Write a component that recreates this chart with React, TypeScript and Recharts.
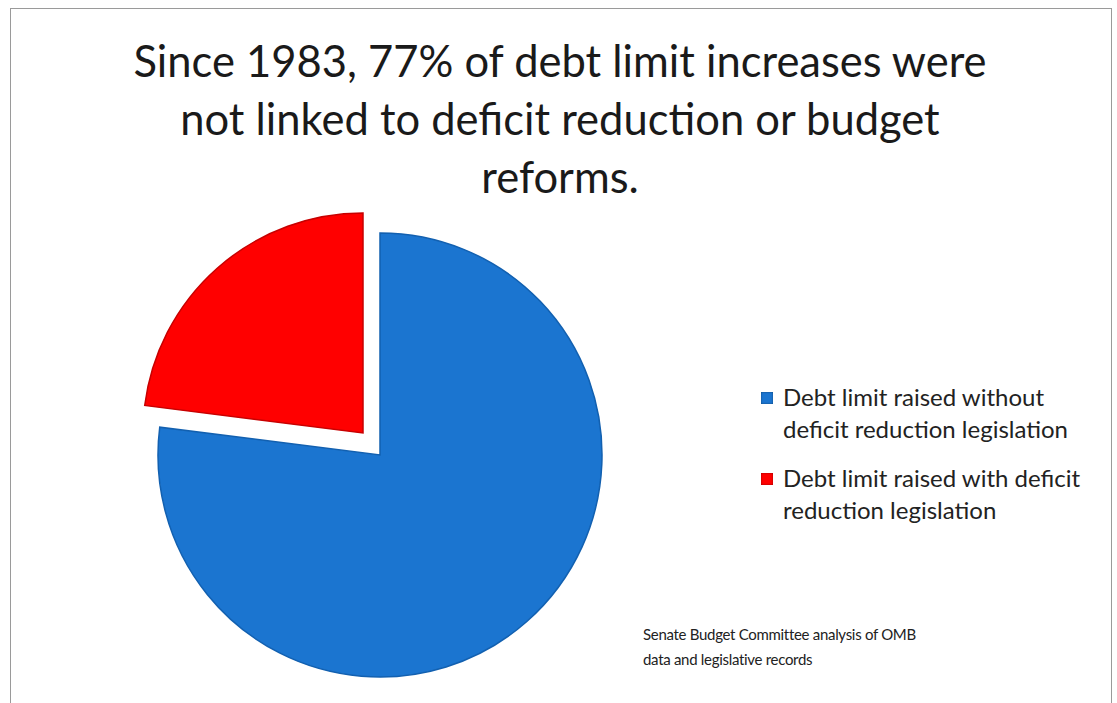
import { PieChart, Pie, Cell } from 'recharts';

const categories = [
  'Debt limit raised without deficit reduction legislation',
  'Debt limit raised with deficit reduction legislation',
];
const shares = [77, 23];
const colors = ['#1b75d0', '#ff0000'];
const edgeColors = ['#1260b0', '#c80000'];
const legendLines = [
  ['Debt limit raised without', 'deficit reduction legislation'],
  ['Debt limit raised with deficit', 'reduction legislation'],
];

const data = categories.map((name, i) => ({ name, value: shares[i] }));

const font = 'Lato, "Open Sans", sans-serif';

const App = () => {
  return (
    <div
      style={{
        position: 'absolute',
        left: 0,
        top: 0,
        width: 1117,
        height: 703,
        background: '#fff',
        overflow: 'hidden',
        fontFamily: font,
      }}
    >
      <div
        style={{
          position: 'absolute',
          left: 10,
          top: 8,
          width: 1100,
          height: 720,
          border: '1.5px solid #9a9a9a',
        }}
      />
      <div
        style={{
          position: 'absolute',
          left: 60,
          top: 31,
          width: 1000,
          textAlign: 'center',
          fontSize: 43.5,
          lineHeight: '58px',
          color: '#1a1a1a',
        }}
      >
        Since 1983, 77% of debt limit increases were
        <br />
        not linked to deficit reduction or budget
        <br />
        reforms.
      </div>
      <PieChart
        width={1117}
        height={703}
        margin={{ top: 0, right: 0, bottom: 0, left: 0 }}
        style={{ position: 'absolute', left: 0, top: 0 }}
      >
        <Pie
          data={data}
          dataKey="value"
          cx={380}
          cy={455}
          outerRadius={222}
          startAngle={90}
          endAngle={-270}
          stroke="none"
          isAnimationActive={false}
        >
          <Cell fill={colors[0]} stroke={edgeColors[0]} strokeWidth={1.5} />
          <Cell fill="transparent" stroke="none" />
        </Pie>
        <Pie
          data={data}
          dataKey="value"
          cx={363}
          cy={433}
          outerRadius={220}
          startAngle={90}
          endAngle={-270}
          stroke="none"
          isAnimationActive={false}
        >
          <Cell fill="transparent" stroke="none" />
          <Cell fill={colors[1]} stroke={edgeColors[1]} strokeWidth={1.5} />
        </Pie>
      </PieChart>
      <div
        style={{
          position: 'absolute',
          left: 757,
          top: 381,
          fontSize: 24,
          lineHeight: '32px',
          color: '#222',
          whiteSpace: 'nowrap',
        }}
      >
        {legendLines.map((lines, i) => (
          <div key={i} style={{ position: 'relative', paddingLeft: 26, marginBottom: i === 0 ? 17 : 0 }}>
            <span
              style={{
                position: 'absolute',
                left: 4,
                top: 11,
                width: 12,
                height: 12,
                background: colors[i],
                boxShadow: 'inset 0 0 2px rgba(0,0,0,0.5)',
              }}
            />
            {lines[0]}
            <br />
            {lines[1]}
          </div>
        ))}
      </div>
      <div
        style={{
          position: 'absolute',
          left: 643,
          top: 622,
          fontSize: 15,
          letterSpacing: -0.3,
          lineHeight: '25px',
          color: '#222',
          whiteSpace: 'nowrap',
        }}
      >
        Senate Budget Committee analysis of OMB
        <br />
        data and legislative records
      </div>
    </div>
  );
};

export default App;
